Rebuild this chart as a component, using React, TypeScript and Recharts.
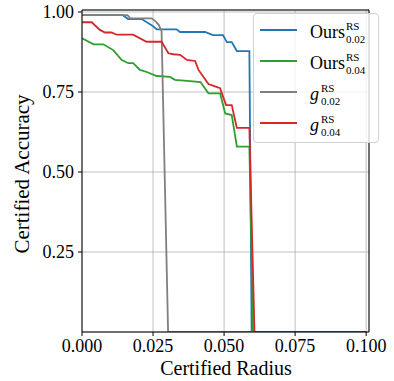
import { LineChart, Line, XAxis, YAxis, CartesianGrid, ReferenceLine } from "recharts";

// Ours^RS_0.02
const oursA_radius = [0, 0.0144, 0.0162, 0.021, 0.0245, 0.0263, 0.0333, 0.0345, 0.0433, 0.0461, 0.0496, 0.051, 0.0527, 0.0545, 0.0589, 0.0597, 0.1];
const oursA_acc = [0.99, 0.99, 0.978, 0.978, 0.959, 0.946, 0.946, 0.9375, 0.9375, 0.928, 0.928, 0.906, 0.906, 0.878, 0.878, 0, 0];

// Ours^RS_0.04
const oursB_radius = [0, 0.0041, 0.0075, 0.011, 0.014, 0.0163, 0.018, 0.0204, 0.0228, 0.0263, 0.031, 0.0327, 0.038, 0.0417, 0.0445, 0.0486, 0.0504, 0.0527, 0.0545, 0.0589, 0.0602, 0.1];
const oursB_acc = [0.918, 0.899, 0.899, 0.881, 0.85, 0.84, 0.84, 0.819, 0.8125, 0.8, 0.797, 0.788, 0.784, 0.781, 0.746, 0.746, 0.683, 0.678, 0.579, 0.579, 0, 0];

// g^RS_0.02
const gA_radius = [0, 0.016, 0.017, 0.0245, 0.026, 0.027, 0.028, 0.0303, 0.1];
const gA_acc = [0.99, 0.99, 0.98, 0.98, 0.97, 0.96, 0.94, 0, 0];

// g^RS_0.04
const gB_radius = [0, 0.0034, 0.0063, 0.0081, 0.0104, 0.0122, 0.018, 0.0227, 0.028, 0.0304, 0.0322, 0.0345, 0.0369, 0.0398, 0.041, 0.0445, 0.0463, 0.0486, 0.0507, 0.0527, 0.0545, 0.0589, 0.0607, 0.1];
const gB_acc = [0.968, 0.968, 0.944, 0.936, 0.936, 0.929, 0.929, 0.907, 0.907, 0.871, 0.868, 0.866, 0.85, 0.847, 0.819, 0.775, 0.769, 0.762, 0.709, 0.709, 0.638, 0.638, 0, 0];

const xTicks = [0, 0.025, 0.05, 0.075, 0.1];
const yTicks = [0.25, 0.5, 0.75, 1.0];

const zip = (xs: number[], ys: number[]) => xs.map((x, i) => ({ r: x, acc: ys[i] }));

const series = [
  { key: "oursA", base: "Ours", italic: false, sub: "0.02", color: "#1f77b4", data: zip(oursA_radius, oursA_acc) },
  { key: "oursB", base: "Ours", italic: false, sub: "0.04", color: "#2ca02c", data: zip(oursB_radius, oursB_acc) },
  { key: "gA", base: "g", italic: true, sub: "0.02", color: "#7f7f7f", data: zip(gA_radius, gA_acc) },
  { key: "gB", base: "g", italic: true, sub: "0.04", color: "#d62728", data: zip(gB_radius, gB_acc) },
];

const FONT = "'Liberation Serif', 'DejaVu Serif', serif";
const X_MAX = 0.101;
const Y_MAX = 1.00625;

// legend drawn by hand, like matplotlib's framed box in the top right
const LegendBox = () => (
  <div
    style={{
      position: "absolute",
      left: 253,
      top: 13,
      width: 124,
      height: 128,
      background: "rgba(255,255,255,0.8)",
      border: "1px solid #d0d0d0",
      borderRadius: 4,
      fontFamily: FONT,
      color: "#000",
    }}
  >
    {series.map((s, i) => (
      <div key={s.key} style={{ position: "absolute", left: 0, top: 16 + i * 31, height: 0 }}>
        <div style={{ position: "absolute", left: 6, top: -1, width: 37, height: 2, background: s.color }} />
        <div style={{ position: "absolute", left: 56, top: -12, whiteSpace: "nowrap", display: "flex", alignItems: "center" }}>
          <span style={{ fontSize: 18, fontStyle: s.italic ? "italic" : "normal", lineHeight: "20px", paddingRight: s.italic ? 1 : 0 }}>{s.base}</span>
          <span style={{ display: "inline-flex", flexDirection: "column", fontSize: 11, lineHeight: "13px", marginLeft: 1, marginTop: 2 }}>
            <span>RS</span>
            <span>{s.sub}</span>
          </span>
        </div>
      </div>
    ))}
  </div>
);

export default function App() {
  return (
    <div style={{ position: "absolute", left: 0, top: 0, width: 394, height: 381, background: "#fff", fontFamily: FONT }}>
      <LineChart width={394} height={381} margin={{ top: 10, right: 25, bottom: 0, left: 0 }}>
        <CartesianGrid stroke="#b0b0b0" strokeWidth={0.8} />
        <XAxis
          type="number"
          dataKey="r"
          domain={[0, X_MAX]}
          ticks={xTicks}
          allowDataOverflow
          height={49}
          tickSize={4}
          tickMargin={3}
          stroke="#000"
          tick={{ fill: "#000", fontSize: 18, fontFamily: FONT }}
          tickFormatter={(v: number) => v.toFixed(3)}
          label={() => (
            <text x={226} y={375} textAnchor="middle" fontSize={20} fontFamily={FONT} fill="#000">
              Certified Radius
            </text>
          )}
        />
        <YAxis
          type="number"
          dataKey="acc"
          domain={[0, Y_MAX]}
          ticks={yTicks}
          allowDataOverflow
          width={82}
          tickSize={4}
          tickMargin={4}
          stroke="#000"
          tick={{ fill: "#000", fontSize: 18, fontFamily: FONT }}
          tickFormatter={(v: number) => v.toFixed(2)}
          label={() => (
            <text x={22} y={174} transform="rotate(-90, 22, 174)" textAnchor="middle" dominantBaseline="central" fontSize={21} fontFamily={FONT} fill="#000">
              Certified Accuracy
            </text>
          )}
        />
        <ReferenceLine x={X_MAX} stroke="#000" strokeWidth={1} />
        <ReferenceLine y={Y_MAX} stroke="#000" strokeWidth={1} />
        {series.map((s) => (
          <Line
            key={s.key}
            data={s.data}
            dataKey="acc"
            type="linear"
            stroke={s.color}
            strokeWidth={1.8}
            dot={false}
            isAnimationActive={false}
          />
        ))}
      </LineChart>
      <LegendBox />
    </div>
  );
}
